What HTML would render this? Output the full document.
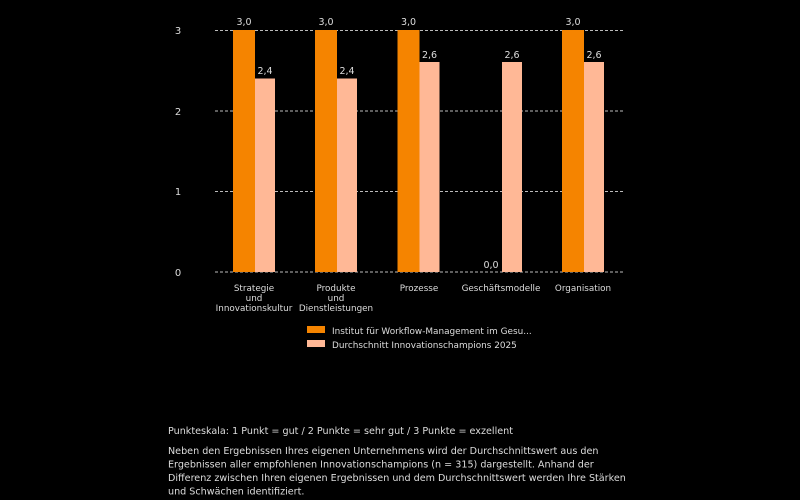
<!DOCTYPE html>
<html><head><meta charset="utf-8"><style>
html,body{margin:0;padding:0;background:#000;}
svg{display:block;font-family:"DejaVu Sans","Liberation Sans",sans-serif;}
</style></head><body>
<svg width="800" height="500" viewBox="0 0 800 500">
<rect width="800" height="500" fill="#000"/>
<g stroke="#bbb" stroke-width="1" stroke-dasharray="3,2">
<line x1="215" y1="30.5" x2="623" y2="30.5"/>
<line x1="215" y1="111" x2="623" y2="111"/>
<line x1="215" y1="191.5" x2="623" y2="191.5"/>
<line x1="215" y1="272" x2="623" y2="272"/>
</g>
<g fill="#ddd" font-size="10" text-anchor="middle">
<text x="178" y="34">3</text><text x="178" y="115">2</text><text x="178" y="195">1</text><text x="178" y="276">0</text>
</g>
<g fill="#f58400">
<rect x="233" y="30" width="22" height="242"/>
<rect x="315" y="30" width="22" height="242"/>
<rect x="397.5" y="30" width="22" height="242"/>
<rect x="562" y="30" width="22" height="242"/>
</g>
<g fill="#ffb896">
<rect x="255" y="78.5" width="20" height="193.5"/>
<rect x="337" y="78.5" width="20" height="193.5"/>
<rect x="419.5" y="62" width="20" height="210"/>
<rect x="502" y="62" width="20" height="210"/>
<rect x="584" y="62" width="20" height="210"/>
</g>
<g fill="#ddd" font-size="9.5" text-anchor="middle">
<text x="244" y="25">3,0</text><text x="265" y="74">2,4</text>
<text x="326" y="25">3,0</text><text x="347" y="74">2,4</text>
<text x="408.5" y="25">3,0</text><text x="429.5" y="58">2,6</text>
<text x="491" y="268">0,0</text><text x="512" y="58">2,6</text>
<text x="573" y="25">3,0</text><text x="594" y="58">2,6</text>
</g>
<g fill="#ddd" font-size="8.8" text-anchor="middle">
<text x="254" y="291">Strategie</text><text x="254" y="301">und</text><text x="254" y="311">Innovationskultur</text>
<text x="336" y="291">Produkte</text><text x="336" y="301">und</text><text x="336" y="311">Dienstleistungen</text>
<text x="419" y="291">Prozesse</text>
<text x="501" y="291">Geschäftsmodelle</text>
<text x="583" y="291">Organisation</text>
</g>
<rect x="307" y="326" width="18" height="7" fill="#f58400"/>
<rect x="307" y="340" width="18" height="7" fill="#ffb896"/>
<g fill="#ddd" font-size="8.9">
<text x="332" y="334">Institut für Workflow-Management im Gesu...</text>
<text x="332" y="348">Durchschnitt Innovationschampions 2025</text>
</g>
<g fill="#ddd" font-size="9.6">
<text x="168" y="434">Punkteskala: 1 Punkt = gut / 2 Punkte = sehr gut / 3 Punkte = exzellent</text>
<text x="168" y="454">Neben den Ergebnissen Ihres eigenen Unternehmens wird der Durchschnittswert aus den</text>
<text x="168" y="467.5">Ergebnissen aller empfohlenen Innovationschampions (n = 315) dargestellt. Anhand der</text>
<text x="168" y="481">Differenz zwischen Ihren eigenen Ergebnissen und dem Durchschnittswert werden Ihre Stärken</text>
<text x="168" y="494.5">und Schwächen identifiziert.</text>
</g>
</svg>
</body></html>
